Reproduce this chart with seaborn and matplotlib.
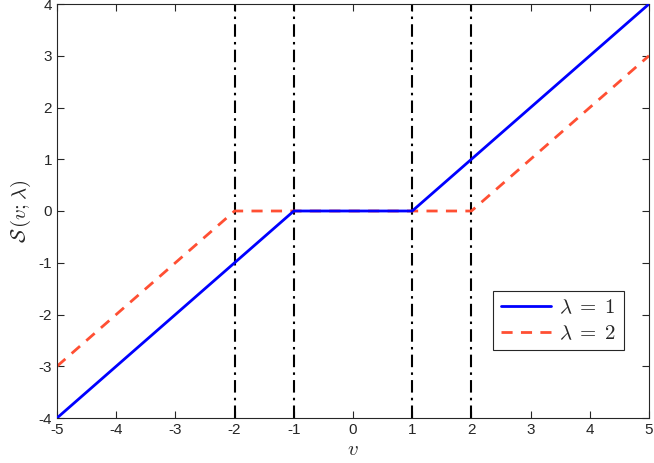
import pandas as pd
import matplotlib
matplotlib.use("Agg")
import matplotlib.pyplot as plt
import seaborn as sns

# data: soft thresholding
v_lam1 = [-5, -1, 1, 5]
s_lam1 = [-4, 0, 0, 4]
v_lam2 = [-5, -2, 2, 5]
s_lam2 = [-3, 0, 0, 3]
thresholds = [-2, -1, 1, 2]
x_ticks = [-5, -4, -3, -2, -1, 0, 1, 2, 3, 4, 5]
y_ticks = [-4, -3, -2, -1, 0, 1, 2, 3, 4]

sns.set_style("ticks")
plt.rcParams['font.family'] = ['Liberation Sans', 'DejaVu Sans']
plt.rcParams['mathtext.fontset'] = 'cm'
plt.rcParams['xtick.direction'] = 'in'
plt.rcParams['ytick.direction'] = 'in'

df1 = pd.DataFrame({"v": v_lam1, "S": s_lam1})
df2 = pd.DataFrame({"v": v_lam2, "S": s_lam2})

fig = plt.figure(figsize=(6.54, 4.63), dpi=100)
ax = fig.add_axes([57/654, 45/463, 592/654, 414/463])

sns.lineplot(data=df1, x="v", y="S", ax=ax, color="#0000ff", lw=2,
             label=r"$\lambda\;=\;1$", zorder=3)
sns.lineplot(data=df2, x="v", y="S", ax=ax, color="#ff4f33", lw=2,
             label=r"$\lambda\;=\;2$", zorder=2)
ax.lines[1].set_linestyle((0, (4, 3)))

for t in thresholds:
    ax.axvline(t, color="black", lw=1.5, linestyle=(0, (6, 2.5, 1.2, 2.5)), zorder=1)

ax.set_xlim(-5, 5)
ax.set_ylim(-4, 4)
ax.set_xticks(x_ticks)
ax.set_yticks(y_ticks)
ax.set_xticklabels([str(t) for t in x_ticks], fontsize=11)
ax.set_yticklabels([str(t) for t in y_ticks], fontsize=11)
ax.set_xlabel(r"$v$", fontsize=15, labelpad=2)
ax.set_ylabel(r"$\mathcal{S}\,(v;\lambda)$", fontsize=15, labelpad=4)
for sp in ax.spines.values():
    sp.set_visible(True)
    sp.set_color("#262626")
    sp.set_linewidth(0.8)
ax.tick_params(which="both", top=True, right=True, length=5, width=0.8, color="#262626")

leg = ax.legend(loc="lower right", bbox_to_anchor=(0.957, 0.164), borderaxespad=0,
                fontsize=15, frameon=True, fancybox=False, framealpha=1,
                handlelength=2.4, handletextpad=0.4, borderpad=0.35, labelspacing=0.3)
leg.get_frame().set_edgecolor("#262626")
leg.get_frame().set_linewidth(0.8)

fig.savefig("out.png", dpi=100)
